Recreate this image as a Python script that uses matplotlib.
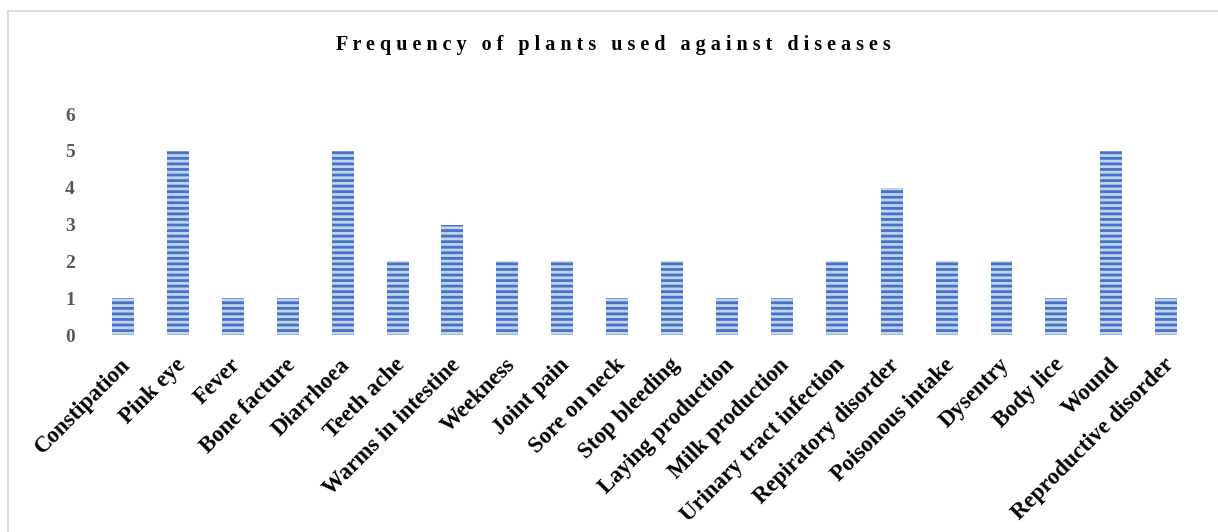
import matplotlib
matplotlib.use("Agg")
import matplotlib.pyplot as plt
import matplotlib.transforms as mtransforms
from matplotlib.lines import Line2D

diseases = [
    "Constipation", "Pink eye", "Fever", "Bone facture", "Diarrhoea",
    "Teeth ache", "Warms in intestine", "Weekness", "Joint pain",
    "Sore on neck", "Stop bleeding", "Laying production", "Milk production",
    "Urinary tract infection", "Repiratory disorder", "Poisonous intake",
    "Dysentry", "Body lice", "Wound", "Reproductive disorder",
]
frequency = [1, 5, 1, 1, 5, 2, 3, 2, 2, 1, 2, 1, 1, 2, 4, 2, 2, 1, 5, 1]
y_ticks = [0, 1, 2, 3, 4, 5, 6]
title = "Frequency of plants used against diseases"

plt.rcParams["font.family"] = ["Liberation Serif", "DejaVu Serif"]
plt.rcParams["hatch.linewidth"] = 2.0

fig = plt.figure(figsize=(12.18, 5.32), dpi=100)
ax = fig.add_axes([0.0785, 0.3703, 0.9015, 0.4154])

x = range(len(diseases))
ax.bar(x, frequency, width=0.40, color="#C3D3EE", edgecolor="#4472C4",
       hatch="---", linewidth=0)

ax.set_xlim(-0.5, len(diseases) - 0.5)
ax.set_ylim(0, 6)
ax.set_yticks(y_ticks)
ax.set_yticklabels([str(v) for v in y_ticks], fontsize=14, fontweight="bold",
                   color="#595959")
ax.set_xticks(list(x))
ax.set_xticklabels(diseases, rotation=45, ha="right", rotation_mode="anchor",
                   fontsize=16.5, fontweight="bold", color="black")
ax.tick_params(axis="both", length=0)
ax.tick_params(axis="y", pad=15)
ax.tick_params(axis="x", pad=14)
for s in ax.spines.values():
    s.set_visible(False)

# nudge the slanted category labels slightly left
shift = mtransforms.ScaledTranslation(-3 / 100, 0, fig.dpi_scale_trans)
for lab in ax.get_xticklabels():
    lab.set_transform(lab.get_transform() + shift)

# letter-spaced title
spaced = "   ".join(" ".join(w) for w in title.split(" "))
fig.text(0.504, 0.915, spaced, ha="center", va="center", fontsize=14.5,
         fontweight="bold", color="black")

# chart-area frame
frame_color = "#D9D9D9"
fig.add_artist(Line2D([8 / 1218, 1.0], [1 - 11 / 532, 1 - 11 / 532],
                      transform=fig.transFigure, color=frame_color, lw=1.3))
fig.add_artist(Line2D([8 / 1218, 8 / 1218], [0.0, 1 - 11 / 532],
                      transform=fig.transFigure, color=frame_color, lw=1.3))

fig.savefig("out.png", dpi=100, facecolor="white")
